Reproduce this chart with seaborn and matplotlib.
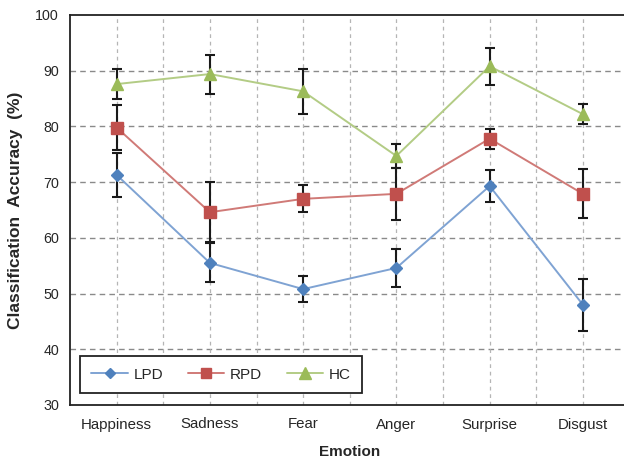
import numpy as np
import pandas as pd
import matplotlib
matplotlib.use("Agg")
import matplotlib.pyplot as plt
import seaborn as sns
from matplotlib.lines import Line2D

categories = ["Happiness", "Sadness", "Fear", "Anger", "Surprise", "Disgust"]
lpd = [71.3, 55.5, 50.8, 54.6, 69.3, 48.0]
lpd_err = [4.0, 3.5, 2.4, 3.4, 2.8, 4.7]
rpd = [79.8, 64.6, 67.0, 67.9, 77.8, 67.9]
rpd_err = [4.0, 5.4, 2.4, 4.7, 1.8, 4.4]
hc = [87.6, 89.4, 86.3, 74.7, 90.8, 82.2]
hc_err = [2.7, 3.5, 4.0, 2.1, 3.3, 1.8]
series_names = ["LPD", "RPD", "HC"]
yticks = [30, 40, 50, 60, 70, 80, 90, 100]

marker_colors = {"LPD": "#4F81BD", "RPD": "#C0504D", "HC": "#9BBB59"}
line_colors = {"LPD": "#7FA3D3", "RPD": "#D07A77", "HC": "#B3CC85"}
markers = {"LPD": "D", "RPD": "s", "HC": "^"}
msizes = {"LPD": 6, "RPD": 8, "HC": 9}

vals = {"LPD": lpd, "RPD": rpd, "HC": hc}
errs = {"LPD": lpd_err, "RPD": rpd_err, "HC": hc_err}

rows = []
for s in series_names:
    for i, c in enumerate(categories):
        rows.append({"idx": i, "Emotion": c, "series": s, "acc": vals[s][i], "err": errs[s][i]})
df = pd.DataFrame(rows)

sns.set_style("white")
plt.rcParams["font.family"] = ["Liberation Sans", "DejaVu Sans"]

fig = plt.figure(figsize=(6.24, 4.58), dpi=100)
ax = fig.add_axes([70 / 624, 53 / 458, 559.5 / 624, 390 / 458])

x = np.arange(len(categories))
ax.set_xlim(-0.5, len(categories) - 0.5)
ax.set_ylim(30, 100)

# grid
for yv in yticks[1:-1]:
    ax.axhline(yv, color="#8a8a8a", lw=1.0, ls=(0, (4, 3)), zorder=0)
for xv in np.arange(-0.5, len(categories), 0.5)[1:]:
    ax.axvline(xv, color="#b5b5b5", lw=0.9, ls=(0, (3, 3)), zorder=0)

# error bars
for s in series_names:
    sub = df[df.series == s]
    ax.errorbar(sub["idx"], sub["acc"], yerr=sub["err"], fmt="none",
                ecolor="#1a1a1a", elinewidth=1.5, capsize=3.5, capthick=1.5, zorder=2)

# lines
for s in series_names:
    sub = df[df.series == s]
    sns.lineplot(data=sub, x="idx", y="acc", ax=ax, color=line_colors[s], lw=1.4,
                 zorder=3, legend=False)
for s in series_names:
    sub = df[df.series == s]
    ax.plot(sub["idx"], sub["acc"], ls="none", marker=markers[s], ms=msizes[s],
            mfc=marker_colors[s], mec=marker_colors[s], zorder=4)

# legend
handles = [Line2D([], [], color=line_colors[s], lw=1.4, marker=markers[s], ms=msizes[s] - 1,
                  mfc=marker_colors[s], mec=marker_colors[s]) for s in series_names]
leg = ax.legend(handles, series_names, ncol=3, loc="lower left",
                bbox_to_anchor=(10 / 559.5, 12 / 390, 282 / 559.5, 39 / 390),
                mode="expand", frameon=True, fancybox=False, fontsize=11,
                handlelength=2.4, borderaxespad=0, borderpad=0.75,
                handletextpad=0.35)
leg.get_frame().set_edgecolor("#222222")
leg.get_frame().set_linewidth(1.3)
leg.get_frame().set_alpha(1)
leg.set_zorder(5)

# ticks
ax.set_xticks(x)
ax.set_xticklabels(categories, fontsize=10.8)
ax.set_xticks(np.arange(0.5, len(categories) - 0.5, 1), minor=True)
ax.tick_params(axis="x", which="major", length=0, pad=9)
ax.tick_params(axis="x", which="minor", direction="in", length=5, width=1.2, color="#222222")
ax.set_yticks(yticks)
ax.set_yticklabels([str(v) for v in yticks], fontsize=10.3)
ax.tick_params(axis="y", length=0, pad=8)

for sp in ax.spines.values():
    sp.set_color("#222222")
    sp.set_linewidth(1.3)

ax.set_xlabel("Emotion", fontsize=11, fontweight="bold", labelpad=10)
ax.set_ylabel("Classification  Accuracy  (%)", fontsize=12.5, fontweight="bold", labelpad=9)

fig.savefig("out.png", dpi=100)
